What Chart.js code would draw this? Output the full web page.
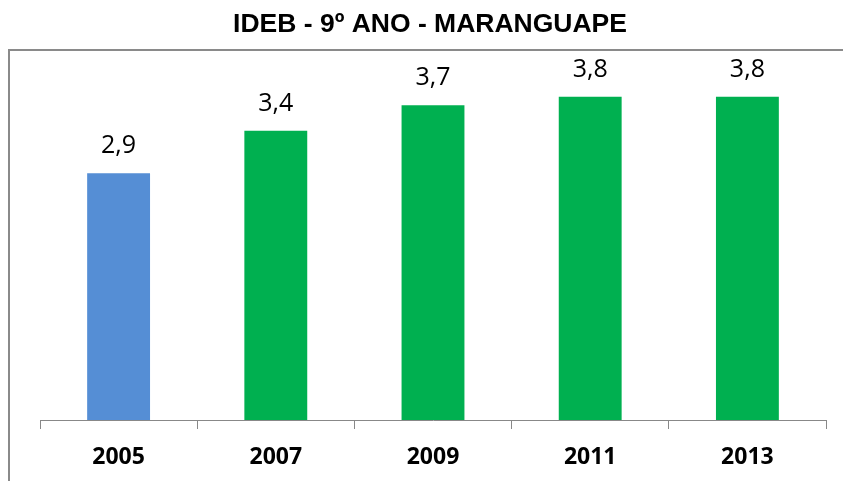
<!DOCTYPE html>
<html>
<head>
<meta charset="utf-8">
<script src="https://cdn.jsdelivr.net/npm/chart.js@4.4.1/dist/chart.umd.min.js"></script>
<style>
  html, body { margin: 0; padding: 0; background: #fff; }
  #wrap { width: 843px; height: 481px; }
</style>
</head>
<body>
<div id="wrap"><canvas id="chart" width="843" height="481"></canvas></div>
<script>
const years = ['2005', '2007', '2009', '2011', '2013'];
const ideb = [2.9, 3.4, 3.7, 3.8, 3.8];
const barColors = ['#558ED5', '#00B050', '#00B050', '#00B050', '#00B050'];
const chartTitle = 'IDEB - 9º ANO - MARANGUAPE';

// frame lines (top and left) seen around the plot
const framePlugin = {
    id: 'frame',
    beforeDraw(chart) {
        const ctx = chart.ctx;
        const top = chart.chartArea.top;
        ctx.save();
        ctx.strokeStyle = '#8a8a8a';
        ctx.lineWidth = 2;
        ctx.beginPath();
        ctx.moveTo(843, top);
        ctx.lineTo(9, top);
        ctx.lineTo(9, chart.height);
        ctx.stroke();
        ctx.restore();
    }
};

// bold title above the frame
const titlePlugin = {
    id: 'topTitle',
    afterDraw(chart) {
        const ctx = chart.ctx;
        ctx.save();
        ctx.font = 'bold 26.5px "Liberation Sans", Arial, sans-serif';
        ctx.fillStyle = '#000';
        ctx.textAlign = 'center';
        ctx.textBaseline = 'alphabetic';
        ctx.fillText(chartTitle, 430, 32);
        ctx.restore();
    }
};

// values written above each bar
const valueLabels = {
    id: 'valueLabels',
    afterDatasetsDraw(chart) {
        const ctx = chart.ctx;
        const meta = chart.getDatasetMeta(0);
        ctx.save();
        ctx.font = '25px "Open Sans"';
        ctx.fillStyle = '#000';
        ctx.textAlign = 'center';
        ctx.textBaseline = 'alphabetic';
        meta.data.forEach((bar, i) => {
            const txt = ideb[i].toFixed(1).replace('.', ',');
            ctx.fillText(txt, bar.x, bar.y - 20);
        });
        ctx.restore();
    }
};

new Chart(document.getElementById('chart').getContext('2d'), {
    type: 'bar',
    data: {
        labels: years,
        datasets: [{
            data: ideb,
            backgroundColor: barColors,
            borderWidth: 0,
            barPercentage: 0.4,
            categoryPercentage: 1
        }]
    },
    options: {
        responsive: false,
        animation: false,
        layout: {
            padding: { left: 40, right: 17, top: 50, bottom: 0 }
        },
        plugins: {
            legend: { display: false },
            tooltip: { enabled: false },
            title: { display: false }
        },
        scales: {
            x: {
                afterFit(scale) {
                    scale.height = 61;
                },
                grid: {
                    display: true,
                    drawOnChartArea: false,
                    drawTicks: true,
                    tickLength: 9,
                    color: '#888',
                    offset: true
                },
                border: { display: true, color: '#888', width: 1 },
                ticks: {
                    color: '#000',
                    padding: 15,
                    font: { family: '"Open Sans"', size: 23, weight: 'bold' }
                }
            },
            y: {
                display: false,
                min: 0,
                max: 4.35
            }
        }
    },
    plugins: [framePlugin, valueLabels, titlePlugin]
});
</script>
</body>
</html>
